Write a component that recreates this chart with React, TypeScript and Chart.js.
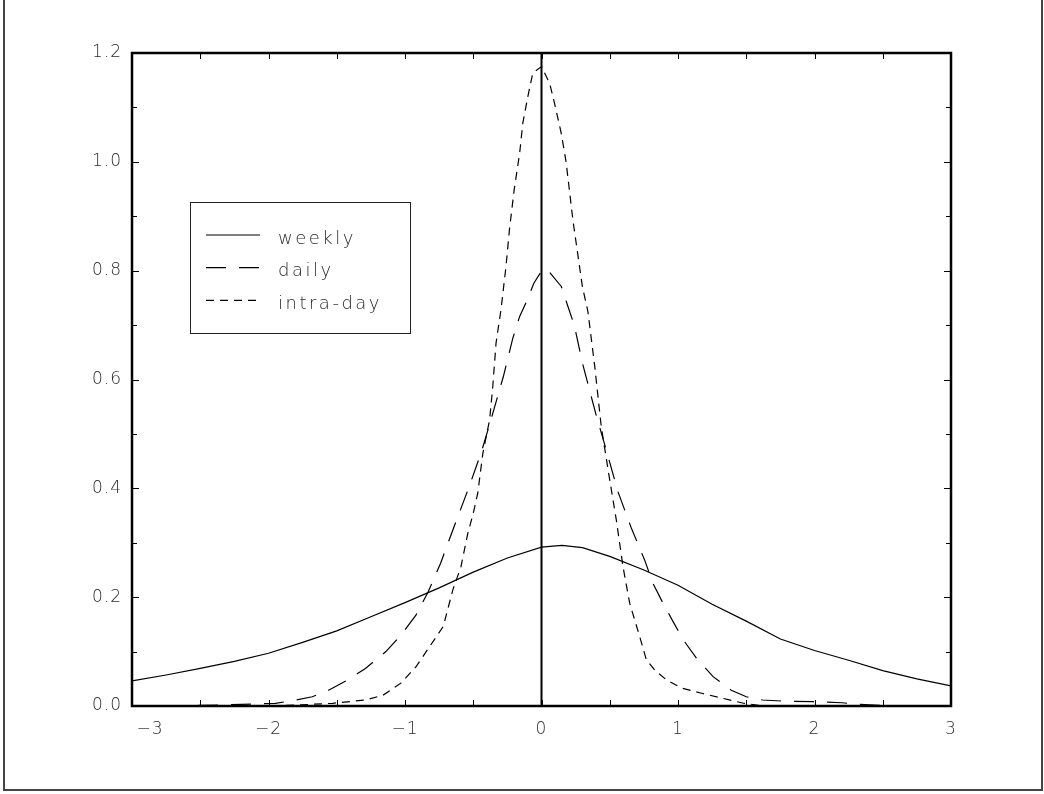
import React, { useEffect, useRef } from "react";
import { Chart, registerables } from "chart.js";

Chart.register(...registerables);

// ---- data ----
const seriesLabels = ["weekly", "daily", "intra-day"];

const weeklyX = [-3, -2.75, -2.5, -2.25, -2, -1.75, -1.5, -1.25, -1, -0.75, -0.5, -0.25, 0, 0.15, 0.3, 0.5, 0.75, 1, 1.25, 1.5, 1.75, 2, 2.25, 2.5, 2.75, 3];
const weeklyY = [0.046, 0.057, 0.069, 0.082, 0.097, 0.117, 0.138, 0.164, 0.19, 0.217, 0.246, 0.272, 0.292, 0.295, 0.291, 0.275, 0.25, 0.222, 0.187, 0.156, 0.123, 0.102, 0.084, 0.065, 0.05, 0.037];

const dailyX = [-3, -2.5, -2.2, -1.95, -1.82, -1.68, -1.56, -1.42, -1.29, -1.14, -1.03, -0.92, -0.83, -0.74, -0.64, -0.53, -0.44, -0.36, -0.28, -0.21, -0.16, -0.11, -0.056, 0.01, 0.05, 0.145, 0.19, 0.24, 0.3, 0.4, 0.475, 0.56, 0.658, 0.756, 0.817, 0.89, 0.964, 1.04, 1.135, 1.257, 1.39, 1.5, 1.62, 1.77, 2.0, 2.2, 2.32, 2.5, 3];
const dailyY = [0, 0.001, 0.003, 0.005, 0.01, 0.017, 0.029, 0.048, 0.069, 0.1, 0.13, 0.167, 0.21, 0.262, 0.33, 0.403, 0.467, 0.535, 0.605, 0.676, 0.716, 0.743, 0.777, 0.803, 0.8, 0.771, 0.737, 0.7, 0.63, 0.535, 0.47, 0.394, 0.327, 0.268, 0.225, 0.189, 0.155, 0.121, 0.088, 0.054, 0.029, 0.017, 0.011, 0.009, 0.008, 0.006, 0.003, 0.001, 0];

const intradayX = [-3, -2, -1.77, -1.53, -1.29, -1.16, -1.03, -0.92, -0.82, -0.72, -0.65, -0.59, -0.54, -0.5, -0.467, -0.43, -0.38, -0.357, -0.333, -0.296, -0.26, -0.235, -0.2, -0.16, -0.137, -0.1, -0.064, 0, 0.06, 0.095, 0.145, 0.18, 0.23, 0.3, 0.34, 0.39, 0.438, 0.5, 0.548, 0.597, 0.646, 0.72, 0.768, 0.83, 0.915, 1.025, 1.18, 1.33, 1.48, 1.6, 2, 3];
const intradayY = [0, 0, 0.002, 0.005, 0.011, 0.02, 0.042, 0.072, 0.109, 0.146, 0.213, 0.256, 0.317, 0.354, 0.391, 0.464, 0.526, 0.587, 0.667, 0.73, 0.808, 0.875, 0.949, 1.016, 1.071, 1.12, 1.163, 1.175, 1.144, 1.108, 1.052, 1.0, 0.893, 0.77, 0.725, 0.624, 0.513, 0.415, 0.342, 0.256, 0.189, 0.127, 0.085, 0.066, 0.048, 0.033, 0.023, 0.014, 0.005, 0.001, 0, 0];

const xMin = -3;
const xMax = 3;
const yMin = 0;
const yMax = 1.2;

const dashes: number[][] = [[], [20, 13], [8, 6]];

const FAMILY = "'DejaVu Sans', sans-serif";
const FONT = { family: FAMILY, size: 17, weight: "200" as any };
const TEXT = "#2a2a2a";

function toPoints(xs: number[], ys: number[]) {
  return xs.map((x, i) => ({ x, y: ys[i] }));
}

const decorPlugin = {
  id: "decor",
  beforeDraw(chart: any) {
    (chart.ctx as any).letterSpacing = "1px";
  },
  afterDraw(chart: any) {
    const ctx = chart.ctx;
    const area = chart.chartArea;
    const xs = chart.scales.x;
    const ys = chart.scales.y;
    ctx.save();

    // outer frame
    ctx.strokeStyle = "#444";
    ctx.lineWidth = 2;
    ctx.strokeRect(4, -10, 1038, 800);

    // ticks (inward)
    ctx.strokeStyle = "#000";
    ctx.lineWidth = 1;
    ctx.beginPath();
    for (let v = xMin; v <= xMax + 1e-9; v += 0.5) {
      const px = Math.round(xs.getPixelForValue(v)) + 0.5;
      ctx.moveTo(px, area.bottom);
      ctx.lineTo(px, area.bottom - 6);
      ctx.moveTo(px, area.top);
      ctx.lineTo(px, area.top + 6);
    }
    let i = 0;
    for (let v = yMin; v <= yMax + 1e-9; v += 0.1, i++) {
      const py = Math.round(ys.getPixelForValue(v)) + 0.5;
      const len = i % 2 === 0 ? 7 : 5;
      ctx.moveTo(area.left, py);
      ctx.lineTo(area.left + len, py);
      ctx.moveTo(area.right, py);
      ctx.lineTo(area.right - len, py);
    }
    ctx.stroke();

    // zero line
    const zx = xs.getPixelForValue(0);
    ctx.lineWidth = 2;
    ctx.beginPath();
    ctx.moveTo(zx, area.top);
    ctx.lineTo(zx, area.bottom);
    ctx.stroke();

    // plot frame
    ctx.lineWidth = 2.5;
    ctx.strokeRect(area.left, area.top, area.right - area.left, area.bottom - area.top);

    // legend
    const lx = 190, ly = 202, lw = 220, lh = 131;
    ctx.fillStyle = "#fff";
    ctx.fillRect(lx, ly, lw, lh);
    ctx.lineWidth = 1;
    ctx.strokeStyle = "#222";
    ctx.strokeRect(lx + 0.5, ly + 0.5, lw, lh);
    ctx.font = `${FONT.weight} 18px ${FAMILY}`;
    (ctx as any).letterSpacing = "2.5px";
    ctx.textBaseline = "alphabetic";
    ctx.textAlign = "left";
    chart.data.datasets.forEach((ds: any, k: number) => {
      const y = 235 + k * 32.7;
      ctx.strokeStyle = "#000";
      ctx.lineWidth = 1.2;
      ctx.setLineDash(ds.borderDash || []);
      ctx.beginPath();
      ctx.moveTo(206, y);
      ctx.lineTo(260, y);
      ctx.stroke();
      ctx.setLineDash([]);
      ctx.fillStyle = TEXT;
      ctx.fillText(ds.label, 278, y + 8.5);
    });

    ctx.restore();
  },
};

export default function App() {
  const ref = useRef<HTMLCanvasElement | null>(null);

  useEffect(() => {
    if (!ref.current) return;
    const ctx = ref.current.getContext("2d");
    if (!ctx) return;
    const datasets = [
      toPoints(weeklyX, weeklyY),
      toPoints(dailyX, dailyY),
      toPoints(intradayX, intradayY),
    ].map((data, k) => ({
      label: seriesLabels[k],
      data,
      borderColor: "#000",
      borderWidth: 1.2,
      borderDash: dashes[k],
      pointRadius: 0,
      tension: 0,
      fill: false,
    }));

    const chart = new Chart(ctx, {
      type: "line",
      data: { datasets },
      options: {
        responsive: false,
        animation: false,
        devicePixelRatio: 1,
        layout: { padding: { top: 53, right: 93, bottom: 0, left: 0 } },
        plugins: { legend: { display: false }, tooltip: { enabled: false } },
        scales: {
          x: {
            type: "linear",
            min: xMin,
            max: xMax,
            border: { display: false },
            grid: { display: false, drawTicks: false },
            ticks: {
              stepSize: 1,
              padding: 13,
              maxRotation: 0,
              color: TEXT,
              font: FONT,
              callback: (value: any) => {
                const n = Number(value);
                let s = n < 0 ? "\u2212" + Math.abs(n) : String(n);
                if (n === xMin) s = "\u2003\u2003" + s;
                return s;
              },
            },
            afterFit: (scale: any) => {
              scale.height = 88;
            },
          },
          y: {
            type: "linear",
            min: yMin,
            max: yMax,
            border: { display: false },
            grid: { display: false, drawTicks: false },
            ticks: {
              stepSize: 0.2,
              padding: 10,
              color: TEXT,
              font: FONT,
              callback: (value: any) => Number(value).toFixed(1),
            },
            afterFit: (scale: any) => {
              scale.width = 132;
            },
          },
        },
      },
      plugins: [decorPlugin],
    });
    return () => chart.destroy();
  }, []);

  return (
    <canvas
      ref={ref}
      width={1044}
      height={794}
      style={{ position: "fixed", left: 0, top: 0, width: 1044, height: 794, background: "#fff" }}
    />
  );
}
